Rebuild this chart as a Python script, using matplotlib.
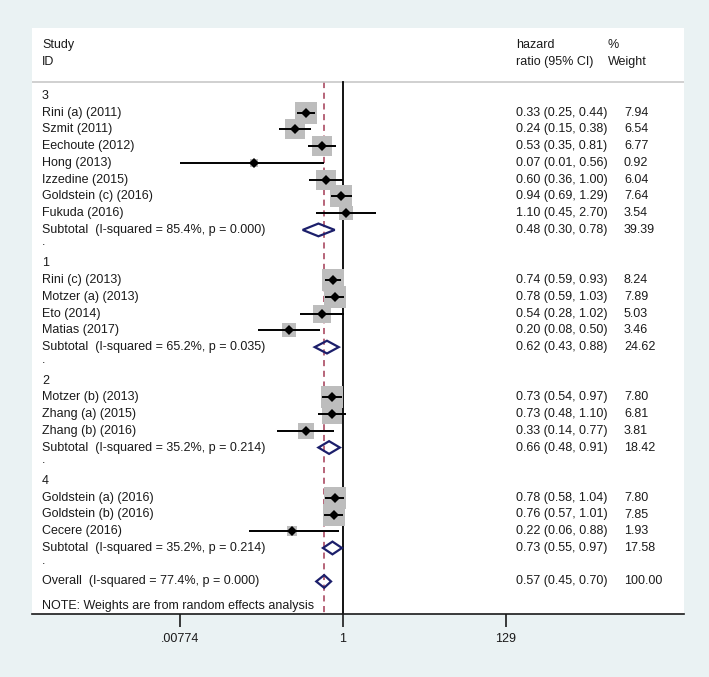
import numpy as np
import matplotlib
matplotlib.use("Agg")
import matplotlib.pyplot as plt
import matplotlib.transforms as mtransforms
from matplotlib.patches import Polygon

plt.rcParams['font.family'] = ['Liberation Sans', 'DejaVu Sans']

# Study level data, grouped
group_names = ["3", "1", "2", "4"]
studies = [
    ["Rini (a) (2011)", "Szmit (2011)", "Eechoute (2012)", "Hong (2013)",
     "Izzedine (2015)", "Goldstein (c) (2016)", "Fukuda (2016)"],
    ["Rini (c) (2013)", "Motzer (a) (2013)", "Eto (2014)", "Matias (2017)"],
    ["Motzer (b) (2013)", "Zhang (a) (2015)", "Zhang (b) (2016)"],
    ["Goldstein (a) (2016)", "Goldstein (b) (2016)", "Cecere (2016)"],
]
hr = [
    [0.33, 0.24, 0.53, 0.07, 0.60, 0.94, 1.10],
    [0.74, 0.78, 0.54, 0.20],
    [0.73, 0.73, 0.33],
    [0.78, 0.76, 0.22],
]
ci_low = [
    [0.25, 0.15, 0.35, 0.00774, 0.36, 0.69, 0.45],
    [0.59, 0.59, 0.28, 0.08],
    [0.54, 0.48, 0.14],
    [0.58, 0.57, 0.06],
]
ci_high = [
    [0.44, 0.38, 0.81, 0.56, 1.00, 1.29, 2.70],
    [0.93, 1.03, 1.02, 0.50],
    [0.97, 1.10, 0.77],
    [1.04, 1.01, 0.88],
]
weights = [
    [7.94, 6.54, 6.77, 0.92, 6.04, 7.64, 3.54],
    [8.24, 7.89, 5.03, 3.46],
    [7.80, 6.81, 3.81],
    [7.80, 7.85, 1.93],
]

# Subtotals per group
sub_i2 = [85.4, 65.2, 35.2, 35.2]
sub_p = [0.000, 0.035, 0.214, 0.214]
sub_hr = [0.48, 0.62, 0.66, 0.73]
sub_low = [0.30, 0.43, 0.48, 0.55]
sub_high = [0.78, 0.88, 0.91, 0.97]
sub_w = [39.39, 24.62, 18.42, 17.58]

# Overall
overall_i2 = 77.4
overall_p = 0.000
overall_hr = 0.57
overall_low = 0.45
overall_high = 0.70

tick_vals = [0.00774, 1, 129]
tick_labels = [".00774", "1", "129"]

W, H = 709, 677
fig = plt.figure(figsize=(W / 100, H / 100), dpi=100)
fig.patch.set_facecolor("#EAF2F3")

# white plot region in pixels
left_px, right_px, top_px, bot_px = 32, 684, 28, 614
ax = fig.add_axes([left_px / W, 1 - bot_px / H,
                   (right_px - left_px) / W, (bot_px - top_px) / H])
ax.set_facecolor("white")

# horizontal scale: 33.5 px per log unit, 1 at x=343
scale = 33.5
x_one = 343
ax.set_xscale("log")
ax.set_xlim(np.exp((left_px - x_one) / scale), np.exp((right_px - x_one) / scale))

# vertical: one row = 16.74 px, row 0 at y=96
row_h = 16.74
row0 = 96
ax.set_ylim((bot_px - row0) / row_h, (top_px - row0) / row_h)

for s in ["top", "left", "right"]:
    ax.spines[s].set_visible(False)
ax.spines["bottom"].set_linewidth(1.2)
ax.spines["bottom"].set_color("#1a1a1a")
ax.set_yticks([])
ax.set_xticks(tick_vals)
ax.set_xticklabels(tick_labels)
ax.xaxis.set_minor_locator(matplotlib.ticker.NullLocator())
ax.tick_params(axis="x", length=9, width=1.2, color="#1a1a1a",
               labelsize=9, labelcolor="#1a1a1a", pad=5)

trans = mtransforms.blended_transform_factory(ax.transAxes, ax.transData)
def fx(px):
    return (px - left_px) / (right_px - left_px)

fs = 9
txt = dict(transform=trans, fontsize=fs, color="#1a1a1a", va="center", ha="left")
x_lab, x_ci, x_w, x_wh = fx(42), fx(516), fx(624), fx(608)

# header
ax.text(x_lab, -3.05, "Study", **txt)
ax.text(x_lab, -2.03, "ID", **txt)
ax.text(x_ci, -3.05, "hazard", **txt)
ax.text(x_ci, -2.03, "ratio (95% CI)", **txt)
ax.text(x_wh, -3.05, "%", **txt)
ax.text(x_wh, -2.03, "Weight", **txt)
sep_y = (82 - row0) / row_h
ax.axhline(sep_y, color="#c8c8c8", lw=1.2)

def ci_text(e, lo, hi):
    return f"{e:.2f} ({lo:.2f}, {hi:.2f})"

def diamond(e, lo, hi, y):
    h = 0.38
    poly = Polygon([[lo, y], [e, y - h], [hi, y], [e, y + h]], closed=True,
                   fill=False, edgecolor="#1c1f6b", lw=1.6, zorder=5)
    ax.add_patch(poly)

side_k = 7.8  # px per sqrt(weight)
row = 0
for g in range(len(group_names)):
    ax.text(x_lab, row, group_names[g], **txt)
    row += 1
    for name, e, lo, hi, w in zip(studies[g], hr[g], ci_low[g], ci_high[g], weights[g]):
        ax.text(x_lab, row, name, **txt)
        ax.text(x_ci, row, ci_text(e, lo, hi), **txt)
        ax.text(x_w, row, f"{w:.2f}", **txt)
        ax.plot([e], [row], marker="s", ms=side_k * np.sqrt(w) * 0.72,
                color="#bdbdbd", mew=0, zorder=3)
        ax.plot([lo, hi], [row, row], color="black", lw=1.4, zorder=4,
                solid_capstyle="butt")
        ax.plot([e], [row], marker="D", ms=5.2, color="black", mew=0, zorder=5)
        row += 1
    ax.text(x_lab, row, f"Subtotal  (I-squared = {sub_i2[g]:.1f}%, p = {sub_p[g]:.3f})", **txt)
    ax.text(x_ci, row, ci_text(sub_hr[g], sub_low[g], sub_high[g]), **txt)
    ax.text(x_w, row, f"{sub_w[g]:.2f}", **txt)
    diamond(sub_hr[g], sub_low[g], sub_high[g], row)
    row += 1
    ax.text(x_lab, row - 0.25, ".", **txt)
    row += 1

ax.text(x_lab, row, f"Overall  (I-squared = {overall_i2:.1f}%, p = {overall_p:.3f})", **txt)
ax.text(x_ci, row, ci_text(overall_hr, overall_low, overall_high), **txt)
ax.text(x_w, row, "100.00", **txt)
diamond(overall_hr, overall_low, overall_high, row)
note_row = (606 - row0) / row_h
ax.text(x_lab, note_row, "NOTE: Weights are from random effects analysis", **txt)

ybot = (bot_px - row0) / row_h
ax.plot([1, 1], [sep_y, ybot], color="black", lw=1.3, zorder=2)
ax.plot([overall_hr, overall_hr], [sep_y, ybot], color="#a33a55", lw=1.1,
        dashes=(4, 3), zorder=1)

fig.savefig("out.png", dpi=100, facecolor=fig.get_facecolor())
